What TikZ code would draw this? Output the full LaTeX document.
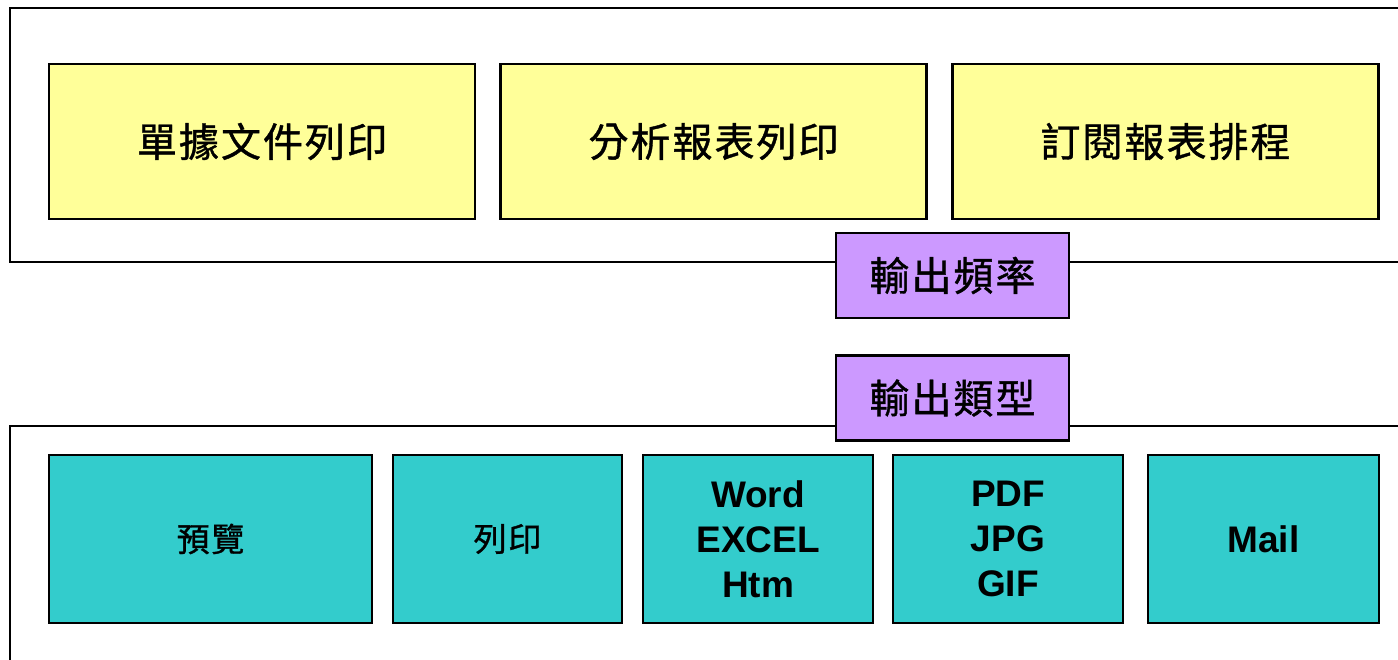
\documentclass[tikz,border=0pt]{standalone}
\usepackage{fontspec}
\setmainfont{Liberation Sans}
\newfontfamily\cjk[LetterSpace=5,FakeBold=1]{Noto Sans CJK TC}
\definecolor{jobyellow}{HTML}{FFFF99}
\definecolor{linkpurple}{HTML}{CC99FF}
\definecolor{outteal}{HTML}{33CCCC}

\begin{document}
\begin{tikzpicture}[x=1pt,y=-1pt,
  box/.style={draw=black,line width=2.5pt,inner sep=0pt,align=center},
  job/.style={box,fill=jobyellow,minimum width=426pt,minimum height=155pt,font=\cjk\fontsize{40}{44}\selectfont},
  link/.style={box,fill=linkpurple,minimum width=233pt,minimum height=85pt,font=\cjk\fontsize{40}{44}\selectfont},
  outbox/.style={box,fill=outteal,minimum height=168pt,font=\fontsize{37}{45}\selectfont\bfseries},
  outcjk/.style={outbox,font=\cjk\fontsize{33}{40}\selectfont}]
\path[use as bounding box,clip] (0,0) rectangle (1398,660);

% frames
\draw[line width=2.5pt] (10,8) rectangle (1430,262);
\draw[line width=2.5pt] (10,690) -- (10,426) -- (1430,426);

% print jobs
\node[job] (doc) at (262,141.5) {單據文件列印};
\node[job] (report) at (713.5,141.5) {分析報表列印};
\node[job] (schedule) at (1165.5,141.5) {訂閱報表排程};

% link boxes
\node[link] (freq) at (952.5,275.5) {輸出頻率};
\node[link] (type) at (952.5,398) {輸出類型};

% output types
\node[outcjk,minimum width=323pt] (preview) at (210.5,539) {預覽};
\node[outcjk,minimum width=229pt] (printer) at (507.5,539) {列印};
\node[outbox,minimum width=230pt] (office) at (758,539) {Word\\EXCEL\\Htm};
\node[outbox,minimum width=230pt] (image) at (1008,539) {PDF\\JPG\\GIF};
\node[outbox,minimum width=231pt] (mail) at (1263.5,539) {Mail};
\end{tikzpicture}
\end{document}
